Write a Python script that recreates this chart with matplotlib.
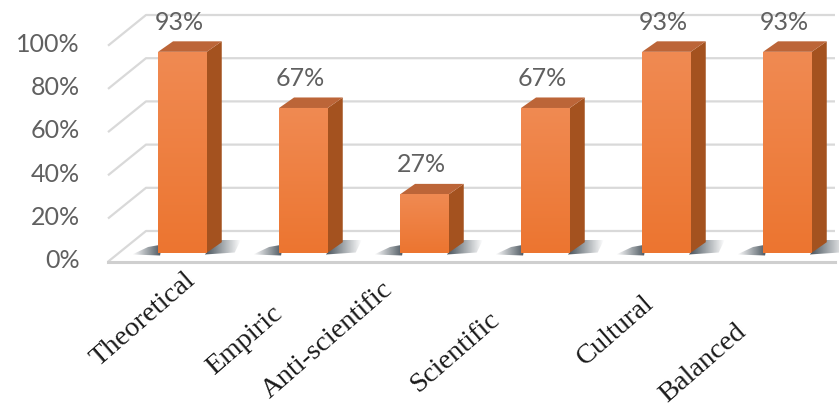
import numpy as np
import matplotlib
matplotlib.use("Agg")
import matplotlib.pyplot as plt
from matplotlib.patches import Polygon
from matplotlib.colors import LinearSegmentedColormap

# ---------------- data ----------------
categories = ["Theoretical", "Empiric", "Anti-scientific", "Scientific", "Cultural", "Balanced"]
values = [93, 67, 27, 67, 93, 93]
value_labels = ["93%", "67%", "27%", "67%", "93%", "93%"]
y_ticks = [0, 20, 40, 60, 80, 100]
y_tick_labels = ["0%", "20%", "40%", "60%", "80%", "100%"]

# ---------------- layout (pixel based) ----------------
W, H = 839, 412
XPX = 121.0      # pixels per category
YPX = 2.16       # pixels per percent
X0, Y0 = 182.4, 252.7   # pixel of first bar centre / bar baseline

def X(p):   # pixel x -> data x
    return (p - X0) / XPX

def Y(p):   # pixel y (from top) -> data y
    return (Y0 - p) / YPX

bar_w = 48.7 / XPX
depth_dx = 15.0 / XPX
depth_dy = 10.5 / YPX
back_off = Y(231)          # back wall offset of gridlines
front_off = Y(261.7)       # floor front edge offset

# label anchor tweaks (pixel offsets from bar centre, pixel y)
label_dx_px = [1, -32, -43, -57, -24, -53]
label_py = [268, 301, 277, 307, 291, 319]

fig = plt.figure(figsize=(W / 100, H / 100), dpi=100)
ax = fig.add_axes([0, 0, 1, 1])
ax.axis("off")

grid_col = "#D9D9D9"
x_front, x_back, x_right = X(108), X(146), X(835)
for t in y_ticks:
    ax.plot([x_front, x_back, x_right], [t + front_off, t + back_off, t + back_off],
            color=grid_col, lw=1.6, zorder=1, solid_capstyle="butt")
ax.plot([x_front, x_right], [front_off, front_off], color="#CFCFCF", lw=2.2, zorder=1)

for t, lab in zip(y_ticks, y_tick_labels):
    ax.text(X(80), t + front_off + 0.6, lab, ha="right", va="center",
            fontsize=18, color="#606060", family="Lato")

xs = np.arange(len(categories))


def shadow(poly_px, x0p, x1p, a0, a1):
    poly = [(X(px), Y(py)) for px, py in poly_px]
    patch = Polygon(poly, closed=True, facecolor="none", edgecolor="none", zorder=2)
    ax.add_patch(patch)
    n = 64
    rgba = np.zeros((1, n, 4))
    rgba[..., 0] = 0.20
    rgba[..., 1] = 0.25
    rgba[..., 2] = 0.29
    rgba[0, :, 3] = np.linspace(a0, a1, n)
    ys = [p[1] for p in poly]
    im = ax.imshow(rgba, extent=[X(x0p), X(x1p), min(ys), max(ys)], origin="lower",
                   aspect="auto", zorder=2, interpolation="bilinear")
    im.set_clip_path(patch)


for x in xs:
    Lp = X0 + XPX * x - 48.7 / 2
    Rp = Lp + 48.7
    shadow([(Lp - 26, 254.5), (Lp + 2, 255.5), (Lp + 4, 244.5), (Lp - 10, 247)],
           Lp - 26, Lp + 4, 0.0, 0.9)
    shadow([(Rp - 2, 254.5), (Rp + 28, 252.5), (Rp + 34, 240), (Rp + 12, 240)],
           Rp - 2, Rp + 34, 0.9, 0.0)

bars = ax.bar(xs, values, width=bar_w, color="#ED7D31", zorder=4, linewidth=0)

cm = LinearSegmentedColormap.from_list("fr", ["#EC7530", "#F08A52"])
for x, v, b in zip(xs, values, bars):
    L, R = x - bar_w / 2, x + bar_w / 2
    grad = np.linspace(0, 1, 100).reshape(-1, 1)
    im = ax.imshow(grad, extent=[L, R, 0, v], origin="lower", cmap=cm,
                   aspect="auto", zorder=4.5, interpolation="bilinear")
    im.set_clip_path(b)
    side = Polygon([(R, 0), (R + depth_dx, depth_dy), (R + depth_dx, v + depth_dy), (R, v)],
                   closed=True, facecolor="#A4521F", edgecolor="none", zorder=3.5)
    ax.add_patch(side)
    top = Polygon([(L, v), (R, v), (R + depth_dx, v + depth_dy), (L + depth_dx, v + depth_dy)],
                  closed=True, facecolor="#BC6538", edgecolor="none", zorder=3.6)
    ax.add_patch(top)

for x, v, lab in zip(xs, values, value_labels):
    ax.text(x - 3 / XPX, v + 13.8, lab, ha="center", va="center",
            fontsize=18, color="#606060", family="Lato", zorder=6)

for x, cat, dxp, pyy in zip(xs, categories, label_dx_px, label_py):
    ax.text(x + dxp / XPX, Y(pyy), cat, rotation=41, rotation_mode="anchor",
            ha="right", va="top", fontsize=20.5, family="Liberation Serif",
            color="#1A1A1A", zorder=6)

ax.set_xlim(X(0), X(W))
ax.set_ylim(Y(H), Y(0))

fig.savefig("out.png", dpi=100)
